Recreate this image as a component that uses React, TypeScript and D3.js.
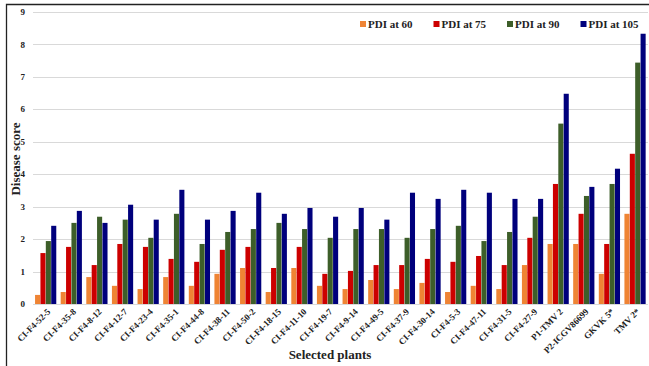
import { useRef, useEffect } from "react";
import * as d3 from "d3";

const plants = [
  "CI-F4-52-5", "CI-F4-35-8", "CI-F4-8-12", "CI-F4-12-7", "CI-F4-23-4", "CI-F4-35-1",
  "CI-F4-44-8", "CI-F4-38-11", "CI-F4-50-2", "CI-F4-18-15", "CI-F4-11-10", "CI-F4-19-7",
  "CI-F4-9-14", "CI-F4-49-5", "CI-F4-37-9", "CI-F4-30-14", "CI-F4-5-3", "CI-F4-47-11",
  "CI-F4-31-5", "CI-F4-27-9", "P1-TMV 2", "P2-ICGV86699", "GKVK 5*", "TMV 2*",
];

const seriesNames = ["PDI at 60", "PDI at 75", "PDI at 90", "PDI at 105"];
const seriesColors = ["#ef8434", "#cc0000", "#3d5e29", "#00007c"];

const pdi60 = [0.28, 0.37, 0.83, 0.56, 0.46, 0.83, 0.56, 0.93, 1.11, 0.37, 1.11, 0.56,
  0.46, 0.74, 0.46, 0.65, 0.37, 0.56, 0.46, 1.2, 1.85, 1.85, 0.93, 2.78];
const pdi75 = [1.57, 1.76, 1.2, 1.85, 1.76, 1.39, 1.3, 1.67, 1.76, 1.11, 1.76, 0.93,
  1.02, 1.2, 1.2, 1.39, 1.3, 1.48, 1.2, 2.04, 3.7, 2.78, 1.85, 4.63];
const pdi90 = [1.94, 2.5, 2.69, 2.6, 2.04, 2.78, 1.85, 2.22, 2.31, 2.5, 2.31, 2.04,
  2.31, 2.31, 2.04, 2.31, 2.41, 1.94, 2.22, 2.69, 5.56, 3.33, 3.7, 7.44];
const pdi105 = [2.41, 2.87, 2.5, 3.06, 2.6, 3.52, 2.6, 2.87, 3.43, 2.78, 2.96, 2.69,
  2.96, 2.6, 3.43, 3.24, 3.52, 3.43, 3.24, 3.24, 6.48, 3.61, 4.17, 8.33];

const yTicks = [0, 1, 2, 3, 4, 5, 6, 7, 8, 9];

export default function App() {
  const svgRef = useRef<SVGSVGElement>(null);

  useEffect(() => {
    const w = 649;
    const h = 366;
    const svg = d3.select(svgRef.current);
    svg.selectAll("*").remove();
    svg.attr("width", w).attr("height", h);

    const font = "'Liberation Serif', 'Times New Roman', serif";
    const allSeries = [pdi60, pdi75, pdi90, pdi105];

    const x0 = d3.scaleBand<string>()
      .domain(plants)
      .range([33, 648])
      .paddingInner(0.16)
      .paddingOuter(0.08);

    const x1 = d3.scaleBand<string>()
      .domain(seriesNames)
      .range([0, x0.bandwidth()]);

    const yScale = d3.scaleLinear()
      .domain([0, 9])
      .range([304, 12]);

    svg.append("rect")
      .attr("width", w).attr("height", h).attr("fill", "#fff");

    // frame (only left and top edges are visible in the picture)
    svg.append("path")
      .attr("d", `M6.5,${h} V4.5 H${w}`)
      .attr("fill", "none")
      .attr("stroke", "#222")
      .attr("stroke-width", 1.3);

    svg.append("g")
      .selectAll("line")
      .data(yTicks)
      .enter()
      .append("line")
        .attr("x1", 33)
        .attr("x2", 648)
        .attr("y1", d => Math.round(yScale(d)) + 0.5)
        .attr("y2", d => Math.round(yScale(d)) + 0.5)
        .attr("stroke", "#d9d9d9")
        .attr("stroke-width", 1);

    svg.append("g")
      .selectAll("text")
      .data(yTicks)
      .enter()
      .append("text")
        .attr("x", 25)
        .attr("y", d => yScale(d))
        .attr("dy", "0.35em")
        .attr("text-anchor", "end")
        .attr("font-family", font)
        .attr("font-weight", "bold")
        .attr("font-size", 9)
        .attr("fill", "#222")
        .text(d => d);

    const groups = svg.append("g")
      .selectAll("g")
      .data(plants)
      .enter()
      .append("g")
        .attr("transform", d => `translate(${x0(d)},0)`);

    groups.selectAll("rect")
      .data((_, i) => seriesNames.map((s, j) => ({ s, j, v: allSeries[j][i] })))
      .enter()
      .append("rect")
        .attr("x", d => x1(d.s)!)
        .attr("y", d => yScale(d.v))
        .attr("width", x1.bandwidth() - 0.3)
        .attr("height", d => yScale(0) - yScale(d.v))
        .attr("fill", d => seriesColors[d.j]);

    svg.append("g")
      .selectAll("text")
      .data(plants)
      .enter()
      .append("text")
        .attr("transform", d => `translate(${x0(d)! + x0.bandwidth() / 2 + 3},310) rotate(-45)`)
        .attr("text-anchor", "end")
        .attr("dy", "0.35em")
        .attr("font-family", font)
        .attr("font-weight", "bold")
        .attr("font-size", 9)
        .attr("fill", "#222")
        .text(d => d);

    svg.append("text")
      .attr("x", 330)
      .attr("y", 359)
      .attr("text-anchor", "middle")
      .attr("font-family", font)
      .attr("font-weight", "bold")
      .attr("font-size", 13)
      .attr("fill", "#222")
      .text("Selected plants");

    svg.append("text")
      .attr("transform", "translate(20,159) rotate(-90)")
      .attr("text-anchor", "middle")
      .attr("font-family", font)
      .attr("font-weight", "bold")
      .attr("font-size", 13)
      .attr("fill", "#222")
      .text("Disease score");

    // legend
    const legendX = [360, 433.5, 507, 580.5];
    const legend = svg.append("g")
      .selectAll("g")
      .data(seriesNames)
      .enter()
      .append("g")
        .attr("transform", (_, i) => `translate(${legendX[i]},24)`);
    legend.append("rect")
      .attr("x", 0).attr("y", -3)
      .attr("width", 6).attr("height", 6)
      .attr("fill", (_, i) => seriesColors[i]);
    legend.append("text")
      .attr("x", 8)
      .attr("dy", "0.35em")
      .attr("font-family", font)
      .attr("font-weight", "bold")
      .attr("font-size", 11)
      .attr("fill", "#222")
      .text(d => d);
  }, []);

  return (
    <div>
      <svg ref={svgRef} style={{ position: "absolute", left: 0, top: 0 }} />
    </div>
  );
}
